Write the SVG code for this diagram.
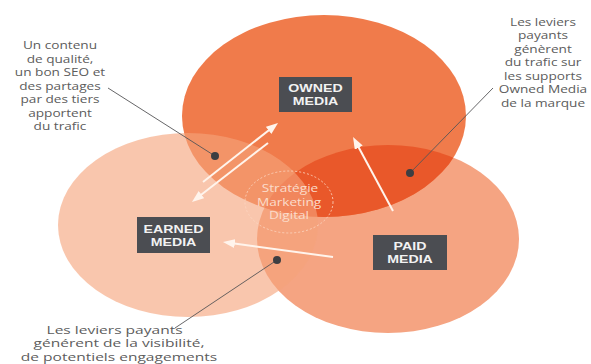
<svg xmlns="http://www.w3.org/2000/svg" width="591" height="364" viewBox="0 0 591 364">
  <defs>
    <style>
      .box { fill: #4B4D52; }
      .boxtxt { font-family: "Liberation Sans", Arial, sans-serif; font-weight: 700; font-size: 10.5px; fill: #F2F2F2; text-anchor: middle; }
      .note { font-family: "Open Sans", "Liberation Sans", sans-serif; font-size: 10.5px; fill: #5C5C5C; text-anchor: middle; }
      .center { font-family: "Open Sans", "Liberation Sans", sans-serif; font-size: 10.5px; fill: #FBDCCB; text-anchor: middle; }
      .arrow { stroke: #FFF4EC; stroke-width: 2; fill: none; marker-end: url(#head); }
      .leader { stroke: #555557; stroke-width: 0.9; fill: none; }
      .dot { fill: #3D3E42; }
    </style>
    <marker id="head" viewBox="0 0 12 9" markerWidth="12" markerHeight="9" refX="6" refY="4.5" orient="auto" markerUnits="userSpaceOnUse">
      <path d="M0,0 L12,4.5 L0,9 Z" fill="#FFF4EC"/>
    </marker>
    <clipPath id="clipOwned">
      <ellipse cx="324" cy="116" rx="142" ry="101"/>
    </clipPath>
  </defs>

  <rect x="0" y="0" width="591" height="364" fill="#FFFFFF"/>

  <g id="paid">
    <ellipse cx="388" cy="239" rx="131" ry="94" fill="#F5A482"/>
    <rect class="box" x="373" y="235" width="74" height="35"/>
    <text class="boxtxt" transform="translate(410,250) scale(1.35,1)">PAID</text>
    <text class="boxtxt" transform="translate(410,263) scale(1.35,1)">MEDIA</text>
  </g>

  <g id="owned">
    <ellipse cx="324" cy="116" rx="142" ry="101" fill="#F07B4B"/>
    <ellipse cx="388" cy="239" rx="131" ry="94" fill="#E9582A" clip-path="url(#clipOwned)"/>
    <rect class="box" x="279" y="77" width="73" height="35"/>
    <text class="boxtxt" transform="translate(315.5,91.5) scale(1.35,1)">OWNED</text>
    <text class="boxtxt" transform="translate(315.5,104.5) scale(1.35,1)">MEDIA</text>
  </g>

  <g id="earned">
    <ellipse cx="188" cy="225" rx="130" ry="92" fill="rgb(246,163,123)" fill-opacity="0.62"/>
    <rect class="box" x="137" y="217" width="73" height="36"/>
    <text class="boxtxt" transform="translate(173.5,232.5) scale(1.35,1)">EARNED</text>
    <text class="boxtxt" transform="translate(173.5,245.5) scale(1.35,1)">MEDIA</text>
  </g>

  <g id="strategie">
    <ellipse cx="289" cy="202" rx="44" ry="31" fill="none" stroke="#FBD5C0" stroke-width="1" stroke-dasharray="2 2" stroke-opacity="0.85"/>
    <text class="center" transform="translate(290,191.5) scale(1.3,1)">Stratégie</text>
    <text class="center" transform="translate(289,205.5) scale(1.3,1)">Marketing</text>
    <text class="center" transform="translate(289,219) scale(1.3,1)">Digital</text>
  </g>

  <g id="connectors">
    <line class="arrow" x1="203" y1="182" x2="273.3" y2="126.7"/>
    <line class="arrow" x1="268" y1="143" x2="196.7" y2="198.3"/>
    <line class="arrow" x1="333" y1="257" x2="228.9" y2="242.8"/>
    <line class="arrow" x1="393" y1="211" x2="355.9" y2="142.3"/>
    <line class="leader" x1="108" y1="88" x2="215" y2="156"/>
    <circle class="dot" cx="215" cy="156" r="4"/>
    <line class="leader" x1="493" y1="88" x2="410" y2="173"/>
    <circle class="dot" cx="410" cy="173" r="4"/>
    <line class="leader" x1="175" y1="328" x2="277" y2="260"/>
    <circle class="dot" cx="277" cy="260" r="4"/>
  </g>

  <g id="note-earned">
    <g transform="translate(60,0) scale(1.3,1)">
      <text class="note" x="0" y="49.5">Un contenu</text>
      <text class="note" x="0" y="63">de qualité,</text>
      <text class="note" x="0" y="76.5">un bon SEO et</text>
      <text class="note" x="0" y="90">des partages</text>
      <text class="note" x="0" y="103.5">par des tiers</text>
      <text class="note" x="0" y="117">apportent</text>
      <text class="note" x="0" y="130.5">du trafic</text>
    </g>
  </g>

  <g id="note-owned">
    <g transform="translate(543,0) scale(1.3,1)">
      <text class="note" x="0" y="26">Les leviers</text>
      <text class="note" x="0" y="39.5">payants</text>
      <text class="note" x="0" y="53">génèrent</text>
      <text class="note" x="0" y="66.5">du trafic sur</text>
      <text class="note" x="0" y="80">les supports</text>
      <text class="note" x="0" y="93.5">Owned Media</text>
      <text class="note" x="0" y="107">de la marque</text>
    </g>
  </g>

  <g id="note-paid">
    <g transform="translate(119,0) scale(1.48,1)">
      <text class="note" x="-3" y="334">Les leviers payants</text>
      <text class="note" x="0" y="347.5">générent de la visibilité,</text>
      <text class="note" x="0" y="361">de potentiels engagements</text>
    </g>
  </g>
</svg>
